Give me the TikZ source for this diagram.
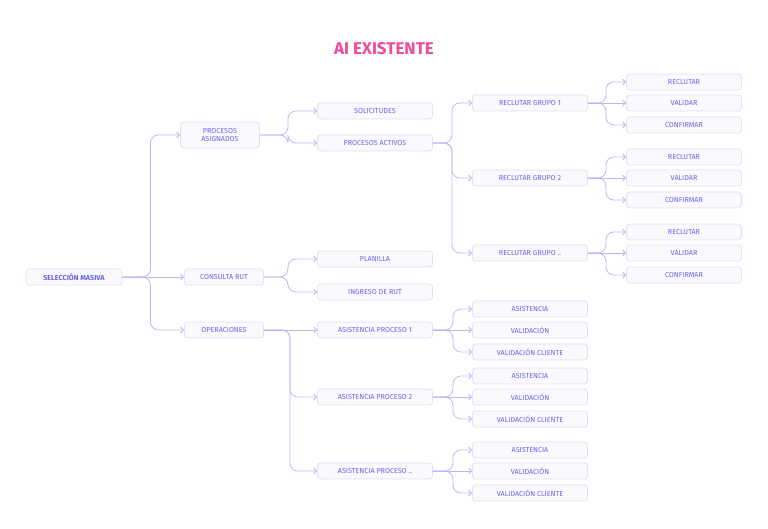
\documentclass[tikz,border=0pt]{standalone}
\usepackage{fontspec}
\setmainfont{Fira Sans}
\usepackage{xcolor}
\usetikzlibrary{arrows.meta, positioning, calc}
\definecolor{titlecolor}{RGB}{238, 76, 156}
\definecolor{textcolor}{RGB}{104, 100, 238}
\definecolor{linecolor}{RGB}{190, 182, 250}
\definecolor{boxcolor}{RGB}{250, 249, 253}
\definecolor{bordercolor}{RGB}{228, 222, 248}

\begin{document}
\begin{tikzpicture}[
        x=1pt, y=-1pt,
        item/.style={rectangle, rounded corners=3pt, draw=bordercolor, fill=boxcolor, thick, minimum width=115pt, minimum height=16pt, inner sep=1pt, align=center, text=textcolor, font=\fontsize{7.2}{8}\selectfont},
        small/.style={item, minimum width=79pt},
        link/.style={linecolor, thick, rounded corners=8pt, -{Straight Barb[length=3pt, width=6pt]}}
    ]
        \useasboundingbox (0,0) rectangle (768,528);
        % Title
        \node (title) at (384,49) [text=titlecolor, font=\bfseries\fontsize{17}{20}\selectfont] {AI EXISTENTE};

        % Root and first level
        \node (root) [item, minimum width=96pt, font=\bfseries\fontsize{7.2}{8}\selectfont] at (74,277) {SELECCIÓN MASIVA};
        \node (asig) [small, minimum height=26pt] at (220,135) {PROCESOS\\ASIGNADOS};
        \node (rut) [small] at (224,277) {CONSULTA RUT};
        \node (oper) [small] at (224,330) {OPERACIONES};

        % Second level
        \node (solic) [item] at (375,111) {SOLICITUDES};
        \node (activ) [item] at (375,143) {PROCESOS ACTIVOS};
        \node (plan) [item] at (375,259) {PLANILLA};
        \node (ingr) [item] at (375,292) {INGRESO DE RUT};
        \node (asis1) [item] at (375,330) {ASISTENCIA PROCESO 1};
        \node (asis2) [item] at (375,397) {ASISTENCIA PROCESO 2};
        \node (asis3) [item] at (375,471) {ASISTENCIA PROCESO ..};

        % Groups
        \node (grp1) [item] at (530,103) {RECLUTAR GRUPO 1};
        \node (grp2) [item] at (530,178) {RECLUTAR GRUPO 2};
        \node (grp3) [item] at (530,253) {RECLUTAR GRUPO ..};

        % Arrows
        \foreach \child in {asig, oper}
            \draw [link] (root.east) -- ++(28,0) |- (\child.west);
        \draw [link] (root) -- (rut);
        \foreach \child in {solic, activ}
            \draw [link] (asig.east) -- ++(28,0) |- (\child.west);
        \foreach \child in {plan, ingr}
            \draw [link] (rut.east) -- ++(24,0) |- (\child.west);
        \draw [link] (oper) -- (asis1);
        \foreach \child in {asis2, asis3}
            \draw [link] (oper.east) -- ++(26,0) |- (\child.west);
        \foreach \child in {grp1, grp2, grp3}
            \draw [link] (activ.east) -- ++(19,0) |- (\child.west);

        % Leaves of each group
        \foreach \g/\y in {grp1/103, grp2/178, grp3/253} {
            \node (\g a) [item] at (684,\y-21) {RECLUTAR};
            \node (\g b) [item] at (684,\y) {VALIDAR};
            \node (\g c) [item] at (684,\y+22) {CONFIRMAR};
            \draw [link] (\g) -- (\g b);
            \foreach \leaf in {a, c}
                \draw [link] (\g.east) -- ++(18,0) |- (\g\leaf.west);
        }

        % Leaves of each process
        \foreach \p/\y in {asis1/330, asis2/397, asis3/471} {
            \node (\p a) [item] at (530,\y-21) {ASISTENCIA};
            \node (\p b) [item] at (530,\y) {VALIDACIÓN};
            \node (\p c) [item] at (530,\y+22) {VALIDACIÓN CLIENTE};
            \draw [link] (\p) -- (\p b);
            \foreach \leaf in {a, c}
                \draw [link] (\p.east) -- ++(20,0) |- (\p\leaf.west);
        }
    \end{tikzpicture}
\end{document}
